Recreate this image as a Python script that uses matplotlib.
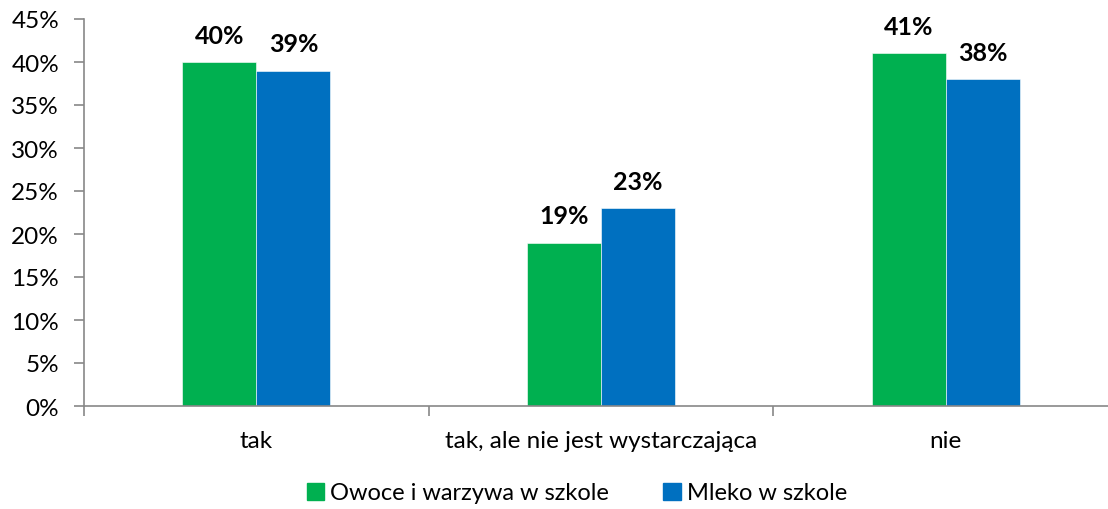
import matplotlib.pyplot as plt
import numpy as np
from matplotlib.patches import Patch
from matplotlib.ticker import FixedLocator, FuncFormatter

plt.rcParams['font.family'] = ['Lato', 'DejaVu Sans']

categories = ["tak", "tak, ale nie jest wystarczająca", "nie"]
series_names = ["Owoce i warzywa w szkole", "Mleko w szkole"]
owoce = [40, 19, 41]
mleko = [39, 23, 38]
colors = ["#00B050", "#0070C0"]

W, H = 1108, 510
fig = plt.figure(figsize=(W / 100, H / 100), dpi=100)
ax = fig.add_axes([84 / W, 1 - 407 / H, (1118 - 84) / W, (407 - 20) / H])

x = np.arange(len(categories))
bw = 0.215
for vals, offs, col in [(owoce, -bw / 2, colors[0]), (mleko, bw / 2, colors[1])]:
    bars = ax.bar(x + offs, vals, bw, color=col, edgecolor="white", linewidth=0.4)
    for b, v in zip(bars, vals):
        ax.annotate(f"{v}%", (b.get_x() + b.get_width() / 2, v),
                    xytext=(0, 11), textcoords="offset points",
                    ha="center", va="bottom", fontsize=18, fontweight="bold")

ax.set_xlim(-0.5, 2.5)
ax.set_ylim(0, 45)
ax.yaxis.set_major_locator(FixedLocator(np.arange(0, 46, 5)))
ax.yaxis.set_major_formatter(FuncFormatter(lambda v, p: f"{v:.0f}%"))
ax.xaxis.set_major_locator(FixedLocator([-0.5, 0.5, 1.5, 2.5]))
ax.xaxis.set_major_formatter(FuncFormatter(lambda v, p: ""))
ax.xaxis.set_minor_locator(FixedLocator(x))
ax.set_xticklabels(categories, minor=True)
ax.tick_params(axis="x", which="minor", length=0, pad=17, labelsize=17.5)
ax.tick_params(axis="x", which="major", length=7, color="#888888", width=1.2)
ax.tick_params(axis="y", length=7, color="#888888", width=1.2, labelsize=17.5, pad=11)

for s in ["top", "right"]:
    ax.spines[s].set_visible(False)
for s in ["left", "bottom"]:
    ax.spines[s].set_color("#888888")
    ax.spines[s].set_linewidth(1.2)

handles = [Patch(color=c, label=n) for c, n in zip(colors, series_names)]
fig.legend(handles=handles, loc="center", bbox_to_anchor=(577 / W, 1 - 494 / H),
           ncol=2, frameon=False, fontsize=17, handlelength=0.75, handleheight=0.75,
           handletextpad=0.25, columnspacing=2.3)

fig.savefig("out.png", dpi=100)
